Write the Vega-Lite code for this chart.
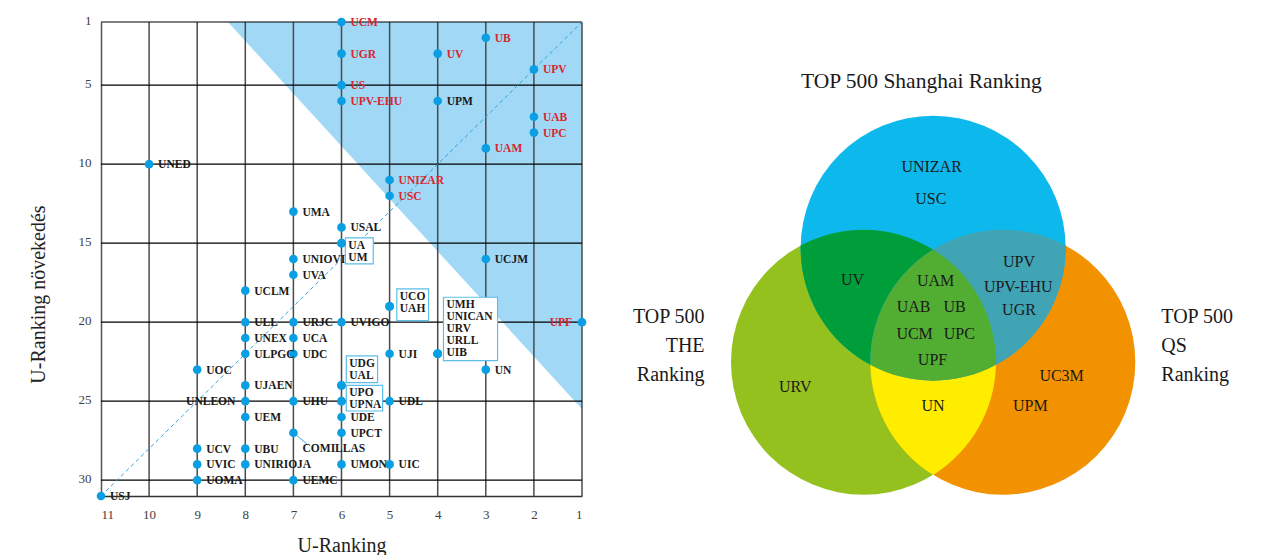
{
  "$schema": "https://vega.github.io/schema/vega-lite/v6.json",
  "autosize": {"type": "none"},
  "padding": {"left": 101, "top": 22, "right": 703, "bottom": 59},
  "width": 481,
  "height": 474,
  "background": "white",
  "config": {"view": {"stroke": null}, "font": "Liberation Serif"},
  "datasets": {
    "unis": [
      {"u": "UCM", "rank": 6, "growth": 1, "top": "yes"},
      {"u": "UGR", "rank": 6, "growth": 3, "top": "yes"},
      {"u": "US", "rank": 6, "growth": 5, "top": "yes"},
      {"u": "UPV-EHU", "rank": 6, "growth": 6, "top": "yes"},
      {"u": "UV", "rank": 4, "growth": 3, "top": "yes"},
      {"u": "UB", "rank": 3, "growth": 2, "top": "yes"},
      {"u": "UPV", "rank": 2, "growth": 4, "top": "yes"},
      {"u": "UAB", "rank": 2, "growth": 7, "top": "yes"},
      {"u": "UPC", "rank": 2, "growth": 8, "top": "yes"},
      {"u": "UAM", "rank": 3, "growth": 9, "top": "yes"},
      {"u": "UPM", "rank": 4, "growth": 6, "top": "no"},
      {"u": "UNED", "rank": 10, "growth": 10, "top": "no"},
      {"u": "UNIZAR", "rank": 5, "growth": 11, "top": "yes"},
      {"u": "USC", "rank": 5, "growth": 12, "top": "yes"},
      {"u": "UMA", "rank": 7, "growth": 13, "top": "no"},
      {"u": "USAL", "rank": 6, "growth": 14, "top": "no"},
      {"u": "UA", "rank": 6, "growth": 15, "top": "no"},
      {"u": "UM", "rank": 6, "growth": 15, "top": "no"},
      {"u": "UNIOVI", "rank": 7, "growth": 16, "top": "no"},
      {"u": "UCJM", "rank": 3, "growth": 16, "top": "no"},
      {"u": "UVA", "rank": 7, "growth": 17, "top": "no"},
      {"u": "UCLM", "rank": 8, "growth": 18, "top": "no"},
      {"u": "UCO", "rank": 5, "growth": 19, "top": "no"},
      {"u": "UAH", "rank": 5, "growth": 19, "top": "no"},
      {"u": "ULL", "rank": 8, "growth": 20, "top": "no"},
      {"u": "URJC", "rank": 7, "growth": 20, "top": "no"},
      {"u": "UVIGO", "rank": 6, "growth": 20, "top": "no"},
      {"u": "UPF", "rank": 1, "growth": 20, "top": "yes"},
      {"u": "UNEX", "rank": 8, "growth": 21, "top": "no"},
      {"u": "UCA", "rank": 7, "growth": 21, "top": "no"},
      {"u": "ULPGC", "rank": 8, "growth": 22, "top": "no"},
      {"u": "UDC", "rank": 7, "growth": 22, "top": "no"},
      {"u": "UJI", "rank": 5, "growth": 22, "top": "no"},
      {"u": "UMH", "rank": 4, "growth": 22, "top": "no"},
      {"u": "UNICAN", "rank": 4, "growth": 22, "top": "no"},
      {"u": "URV", "rank": 4, "growth": 22, "top": "no"},
      {"u": "URLL", "rank": 4, "growth": 22, "top": "no"},
      {"u": "UIB", "rank": 4, "growth": 22, "top": "no"},
      {"u": "UOC", "rank": 9, "growth": 23, "top": "no"},
      {"u": "UN", "rank": 3, "growth": 23, "top": "no"},
      {"u": "UJAEN", "rank": 8, "growth": 24, "top": "no"},
      {"u": "UDG", "rank": 6, "growth": 24, "top": "no"},
      {"u": "UAL", "rank": 6, "growth": 24, "top": "no"},
      {"u": "UNLEON", "rank": 8, "growth": 25, "top": "no"},
      {"u": "UHU", "rank": 7, "growth": 25, "top": "no"},
      {"u": "UPO", "rank": 6, "growth": 25, "top": "no"},
      {"u": "UPNA", "rank": 6, "growth": 25, "top": "no"},
      {"u": "UDL", "rank": 5, "growth": 25, "top": "no"},
      {"u": "UEM", "rank": 8, "growth": 26, "top": "no"},
      {"u": "UDE", "rank": 6, "growth": 26, "top": "no"},
      {"u": "COMILLAS", "rank": 7, "growth": 27, "top": "no"},
      {"u": "UPCT", "rank": 6, "growth": 27, "top": "no"},
      {"u": "UCV", "rank": 9, "growth": 28, "top": "no"},
      {"u": "UBU", "rank": 8, "growth": 28, "top": "no"},
      {"u": "UVIC", "rank": 9, "growth": 29, "top": "no"},
      {"u": "UNIRIOJA", "rank": 8, "growth": 29, "top": "no"},
      {"u": "UMON", "rank": 6, "growth": 29, "top": "no"},
      {"u": "UIC", "rank": 5, "growth": 29, "top": "no"},
      {"u": "UOMA", "rank": 9, "growth": 30, "top": "no"},
      {"u": "UEMC", "rank": 7, "growth": 30, "top": "no"},
      {"u": "USJ", "rank": 11, "growth": 31, "top": "no"}
    ],
    "zone": [
      {"rank": 8.36, "growth": 1, "growth2": 1},
      {"rank": 1, "growth": 25.5, "growth2": 1}
    ],
    "diagonal": [
      {"rank": 11, "growth": 31},
      {"rank": 1, "growth": 1}
    ],
    "gridX": [
      {"rank": 1}, {"rank": 2}, {"rank": 3}, {"rank": 4}, {"rank": 5},
      {"rank": 6}, {"rank": 7}, {"rank": 8}, {"rank": 9}, {"rank": 10}
    ],
    "gridY": [
      {"growth": 1}, {"growth": 5}, {"growth": 10}, {"growth": 15},
      {"growth": 20}, {"growth": 25}, {"growth": 30}
    ],
    "boxes": [
      {"members": "UA\nUM", "x1": 5.92, "x2": 5.34, "y1": 14.66, "y2": 16.31},
      {"members": "UCO\nUAH", "x1": 4.85, "x2": 4.19, "y1": 17.89, "y2": 19.9},
      {"members": "UMH\nUNICAN\nURV\nURLL\nUIB", "x1": 3.88, "x2": 2.755, "y1": 18.42, "y2": 22.43},
      {"members": "UDG\nUAL", "x1": 5.9, "x2": 5.25, "y1": 22.13, "y2": 23.82},
      {"members": "UPO\nUPNA", "x1": 5.9, "x2": 5.145, "y1": 24.0, "y2": 25.62}
    ],
    "callout": [
      {"u": "COMILLAS", "rank": 7, "growth": 27, "rank2": 6.72, "growth2": 27.7, "lx": 6.81, "ly": 28.0}
    ],
    "venn": [
      {"region": "THE", "vx": -0.5257, "vy": 0},
      {"region": "QS", "vx": 0.5257, "vy": 0},
      {"region": "Shanghai", "vx": 0, "vy": -0.8604},
      {"region": "Shanghai+THE", "vx": 0, "vy": 0},
      {"region": "Shanghai+QS", "vx": 0, "vy": 0},
      {"region": "THE+QS", "vx": 0, "vy": 0},
      {"region": "all", "vx": 0, "vy": 0}
    ],
    "vennLabels": [
      {"u": "UNIZAR", "vx": -0.0117, "vy": -1.4732},
      {"u": "USC", "vx": -0.0177, "vy": -1.2317},
      {"u": "UV", "vx": -0.6079, "vy": -0.6226},
      {"u": "UAM", "vx": 0.0185, "vy": -0.6098},
      {"u": "UAB", "vx": -0.1475, "vy": -0.4166},
      {"u": "UB", "vx": 0.1611, "vy": -0.4166},
      {"u": "UCM", "vx": -0.14, "vy": -0.2128},
      {"u": "UPC", "vx": 0.1974, "vy": -0.2128},
      {"u": "UPF", "vx": -0.0049, "vy": -0.0189},
      {"u": "UN", "vx": -0.0004, "vy": 0.3283},
      {"u": "URV", "vx": -1.0404, "vy": 0.1872},
      {"u": "UPV", "vx": 0.6479, "vy": -0.7532},
      {"u": "UPV-EHU", "vx": 0.6426, "vy": -0.5675},
      {"u": "UGR", "vx": 0.6479, "vy": -0.3909},
      {"u": "UC3M", "vx": 0.9694, "vy": 0.1019},
      {"u": "UPM", "vx": 0.7332, "vy": 0.3283}
    ],
    "vennTitles": [
      {"set": "Shanghai", "title": "TOP 500 Shanghai Ranking", "vx": -0.0894, "vy": -2.1132},
      {"set": "THE", "title": "TOP 500\nTHE\nRanking", "vx": -1.7249, "vy": -0.3396},
      {"set": "QS", "title": "TOP 500\nQS\nRanking", "vx": 1.7219, "vy": -0.3396}
    ]
  },
  "layer": [
    {
      "layer": [
        {
          "data": {"name": "zone"},
          "mark": {"type": "area", "color": "#A0D8F6", "opacity": 1},
          "encoding": {
            "x": {
              "field": "rank", "type": "quantitative",
              "scale": {"domain": [1, 11], "reverse": true, "nice": false, "zero": false},
              "axis": {
                "title": "U-Ranking", "values": [1, 2, 3, 4, 5, 6, 7, 8, 9, 10, 11], "format": "d",
                "grid": false, "ticks": false, "domainColor": "#333333", "domainWidth": 1.5,
                "labelFont": "Liberation Serif", "labelFontSize": 13, "labelColor": "#404040", "labelPadding": 12,
                "titleFont": "Liberation Serif", "titleFontSize": 20, "titleFontWeight": "normal", "titleColor": "#222222",
                "titleBaseline": "alphabetic", "titleY": 55
              }
            },
            "y": {
              "field": "growth", "type": "quantitative",
              "scale": {"domain": [1, 31], "reverse": true, "nice": false, "zero": false},
              "axis": {
                "title": "U-Ranking növekedés", "values": [1, 5, 10, 15, 20, 25, 30], "format": "d",
                "grid": false, "ticks": false, "domainColor": "#555555", "domainWidth": 1.5,
                "labelFont": "Liberation Serif", "labelFontSize": 13, "labelColor": "#404040", "labelPadding": 10, "labelOffset": -2,
                "titleFont": "Liberation Serif", "titleFontSize": 20, "titleFontWeight": "normal", "titleColor": "#222222",
                "titleBaseline": "alphabetic", "titleX": -57, "titleY": 272
              }
            },
            "y2": {"field": "growth2"}
          }
        },
        {
          "data": {"name": "gridX"},
          "mark": {"type": "rule", "color": "#4A4A4A", "strokeWidth": 1.5},
          "encoding": {
            "x": {"field": "rank", "type": "quantitative", "scale": {"domain": [1, 11], "reverse": true, "nice": false, "zero": false}}
          }
        },
        {
          "data": {"name": "gridY"},
          "mark": {"type": "rule", "color": "#000000", "strokeWidth": 1.2},
          "encoding": {
            "y": {"field": "growth", "type": "quantitative", "scale": {"domain": [1, 31], "reverse": true, "nice": false, "zero": false}}
          }
        },
        {
          "data": {"name": "diagonal"},
          "mark": {"type": "line", "color": "#2BA6E1", "strokeWidth": 1, "strokeDash": [4, 3]},
          "encoding": {
            "x": {"field": "rank", "type": "quantitative", "scale": {"domain": [1, 11], "reverse": true, "nice": false, "zero": false}},
            "y": {"field": "growth", "type": "quantitative", "scale": {"domain": [1, 31], "reverse": true, "nice": false, "zero": false}}
          }
        },
        {
          "data": {"name": "boxes"},
          "mark": {"type": "rect", "fill": "white", "stroke": "#5BBDE8", "strokeWidth": 1.2},
          "encoding": {
            "x": {"field": "x1", "type": "quantitative", "scale": {"domain": [1, 11], "reverse": true, "nice": false, "zero": false}},
            "x2": {"field": "x2"},
            "y": {"field": "y1", "type": "quantitative", "scale": {"domain": [1, 31], "reverse": true, "nice": false, "zero": false}},
            "y2": {"field": "y2"}
          }
        },
        {
          "data": {"name": "callout"},
          "mark": {"type": "rule", "color": "#3AACE3", "strokeWidth": 1},
          "encoding": {
            "x": {"field": "rank", "type": "quantitative", "scale": {"domain": [1, 11], "reverse": true, "nice": false, "zero": false}},
            "x2": {"field": "rank2"},
            "y": {"field": "growth", "type": "quantitative", "scale": {"domain": [1, 31], "reverse": true, "nice": false, "zero": false}},
            "y2": {"field": "growth2"}
          }
        },
        {
          "data": {"name": "unis"},
          "mark": {"type": "circle", "size": 75, "color": "#0A9FE2", "opacity": 1},
          "encoding": {
            "x": {"field": "rank", "type": "quantitative", "scale": {"domain": [1, 11], "reverse": true, "nice": false, "zero": false}},
            "y": {"field": "growth", "type": "quantitative", "scale": {"domain": [1, 31], "reverse": true, "nice": false, "zero": false}}
          }
        },
        {
          "data": {"name": "unis"},
          "transform": [{"filter": "indexof(['UA','UM','UCO','UAH','UMH','UNICAN','URV','URLL','UIB','UDG','UAL','UPO','UPNA','UNLEON','UPF','COMILLAS'], datum.u) < 0"}],
          "mark": {"type": "text", "align": "left", "baseline": "middle", "dx": 9, "dy": 1, "font": "Liberation Serif", "fontWeight": "bold", "fontSize": 11.5},
          "encoding": {
            "x": {"field": "rank", "type": "quantitative", "scale": {"domain": [1, 11], "reverse": true, "nice": false, "zero": false}},
            "y": {"field": "growth", "type": "quantitative", "scale": {"domain": [1, 31], "reverse": true, "nice": false, "zero": false}},
            "text": {"field": "u"},
            "color": {"field": "top", "type": "nominal", "scale": {"domain": ["yes", "no"], "range": ["#D9262C", "#1A1A1A"]}, "legend": null}
          }
        },
        {
          "data": {"name": "unis"},
          "transform": [{"filter": "datum.u === 'UNLEON' || datum.u === 'UPF'"}],
          "mark": {"type": "text", "align": "right", "baseline": "middle", "dx": -10, "dy": 1, "font": "Liberation Serif", "fontWeight": "bold", "fontSize": 11.5},
          "encoding": {
            "x": {"field": "rank", "type": "quantitative", "scale": {"domain": [1, 11], "reverse": true, "nice": false, "zero": false}},
            "y": {"field": "growth", "type": "quantitative", "scale": {"domain": [1, 31], "reverse": true, "nice": false, "zero": false}},
            "text": {"field": "u"},
            "color": {"field": "top", "type": "nominal", "scale": {"domain": ["yes", "no"], "range": ["#D9262C", "#1A1A1A"]}, "legend": null}
          }
        },
        {
          "data": {"name": "boxes"},
          "mark": {"type": "text", "align": "left", "baseline": "top", "dx": 3, "dy": 2, "lineBreak": "\n", "lineHeight": 12, "font": "Liberation Serif", "fontWeight": "bold", "fontSize": 11.5, "color": "#1A1A1A"},
          "encoding": {
            "x": {"field": "x1", "type": "quantitative", "scale": {"domain": [1, 11], "reverse": true, "nice": false, "zero": false}},
            "y": {"field": "y1", "type": "quantitative", "scale": {"domain": [1, 31], "reverse": true, "nice": false, "zero": false}},
            "text": {"field": "members"}
          }
        },
        {
          "data": {"name": "callout"},
          "mark": {"type": "text", "align": "left", "baseline": "middle", "font": "Liberation Serif", "fontWeight": "bold", "fontSize": 11.5, "color": "#1A1A1A"},
          "encoding": {
            "x": {"field": "lx", "type": "quantitative", "scale": {"domain": [1, 11], "reverse": true, "nice": false, "zero": false}},
            "y": {"field": "ly", "type": "quantitative", "scale": {"domain": [1, 31], "reverse": true, "nice": false, "zero": false}},
            "text": {"field": "u"}
          }
        }
      ]
    },
    {
      "encoding": {
        "x": {"field": "vx", "type": "quantitative", "scale": {"domain": [-6.2804, -2.6502], "nice": false, "zero": false}, "axis": null},
        "y": {"field": "vy", "type": "quantitative", "scale": {"domain": [-2.5675, 1.0098], "reverse": true, "nice": false, "zero": false}, "axis": null}
      },
      "layer": [
        {
          "data": {"name": "venn"},
          "transform": [{"filter": "indexof(['THE','QS','Shanghai'], datum.region) >= 0"}],
          "mark": {"type": "point", "shape": "circle", "size": 70225, "filled": true, "opacity": 1, "strokeWidth": 0},
          "encoding": {
            "color": {"field": "region", "type": "nominal", "scale": {"domain": ["THE", "QS", "Shanghai", "Shanghai+THE", "Shanghai+QS", "THE+QS", "all"], "range": ["#95C11F", "#F29200", "#0DB8EC", "#009E3A", "#40A4B5", "#FFED00", "#52AE32"]}, "legend": null}
          }
        },
        {
          "data": {"name": "venn"},
          "transform": [{"filter": "datum.region === 'Shanghai+THE'"}],
          "mark": {"type": "point", "shape": "M -0.9998 -0.8805 A 1 1 0 0 1 0 -0.8507 A 1 1 0 0 0 -0.474 0.0201 A 1 1 0 0 1 -0.9998 -0.8805 Z", "size": 70225, "filled": true, "opacity": 1, "strokeWidth": 0},
          "encoding": {
            "color": {"field": "region", "type": "nominal", "scale": {"domain": ["THE", "QS", "Shanghai", "Shanghai+THE", "Shanghai+QS", "THE+QS", "all"], "range": ["#95C11F", "#F29200", "#0DB8EC", "#009E3A", "#40A4B5", "#FFED00", "#52AE32"]}, "legend": null}
          }
        },
        {
          "data": {"name": "venn"},
          "transform": [{"filter": "datum.region === 'Shanghai+QS'"}],
          "mark": {"type": "point", "shape": "M 0.9998 -0.8805 A 1 1 0 0 0 0 -0.8507 A 1 1 0 0 1 0.474 0.0201 A 1 1 0 0 0 0.9998 -0.8805 Z", "size": 70225, "filled": true, "opacity": 1, "strokeWidth": 0},
          "encoding": {
            "color": {"field": "region", "type": "nominal", "scale": {"domain": ["THE", "QS", "Shanghai", "Shanghai+THE", "Shanghai+QS", "THE+QS", "all"], "range": ["#95C11F", "#F29200", "#0DB8EC", "#009E3A", "#40A4B5", "#FFED00", "#52AE32"]}, "legend": null}
          }
        },
        {
          "data": {"name": "venn"},
          "transform": [{"filter": "datum.region === 'THE+QS'"}],
          "mark": {"type": "point", "shape": "M -0.474 0.0201 A 1 1 0 0 0 0 0.8507 A 1 1 0 0 0 0.474 0.0201 A 1 1 0 0 1 -0.474 0.0201 Z", "size": 70225, "filled": true, "opacity": 1, "strokeWidth": 0},
          "encoding": {
            "color": {"field": "region", "type": "nominal", "scale": {"domain": ["THE", "QS", "Shanghai", "Shanghai+THE", "Shanghai+QS", "THE+QS", "all"], "range": ["#95C11F", "#F29200", "#0DB8EC", "#009E3A", "#40A4B5", "#FFED00", "#52AE32"]}, "legend": null}
          }
        },
        {
          "data": {"name": "venn"},
          "transform": [{"filter": "datum.region === 'all'"}],
          "mark": {"type": "point", "shape": "M -0.474 0.0201 A 1 1 0 0 0 0.474 0.0201 A 1 1 0 0 0 0 -0.8507 A 1 1 0 0 0 -0.474 0.0201 Z", "size": 70225, "filled": true, "opacity": 1, "strokeWidth": 0},
          "encoding": {
            "color": {"field": "region", "type": "nominal", "scale": {"domain": ["THE", "QS", "Shanghai", "Shanghai+THE", "Shanghai+QS", "THE+QS", "all"], "range": ["#95C11F", "#F29200", "#0DB8EC", "#009E3A", "#40A4B5", "#FFED00", "#52AE32"]}, "legend": null}
          }
        },
        {
          "data": {"name": "vennLabels"},
          "mark": {"type": "text", "align": "center", "baseline": "middle", "font": "Liberation Serif", "fontSize": 16, "color": "#1A1A1A"},
          "encoding": {"text": {"field": "u"}}
        },
        {
          "data": {"name": "vennTitles"},
          "transform": [{"filter": "datum.set === 'Shanghai'"}],
          "mark": {"type": "text", "align": "center", "baseline": "middle", "font": "Liberation Serif", "fontSize": 21.5, "color": "#1A1A1A"},
          "encoding": {"text": {"field": "title"}}
        },
        {
          "data": {"name": "vennTitles"},
          "transform": [{"filter": "datum.set === 'THE'"}],
          "mark": {"type": "text", "align": "right", "baseline": "middle", "lineBreak": "\n", "lineHeight": 29, "font": "Liberation Serif", "fontSize": 20, "color": "#1A1A1A"},
          "encoding": {"text": {"field": "title"}}
        },
        {
          "data": {"name": "vennTitles"},
          "transform": [{"filter": "datum.set === 'QS'"}],
          "mark": {"type": "text", "align": "left", "baseline": "middle", "lineBreak": "\n", "lineHeight": 29, "font": "Liberation Serif", "fontSize": 20, "color": "#1A1A1A"},
          "encoding": {"text": {"field": "title"}}
        }
      ]
    }
  ],
  "resolve": {"scale": {"x": "independent", "y": "independent", "color": "independent"}}
}
